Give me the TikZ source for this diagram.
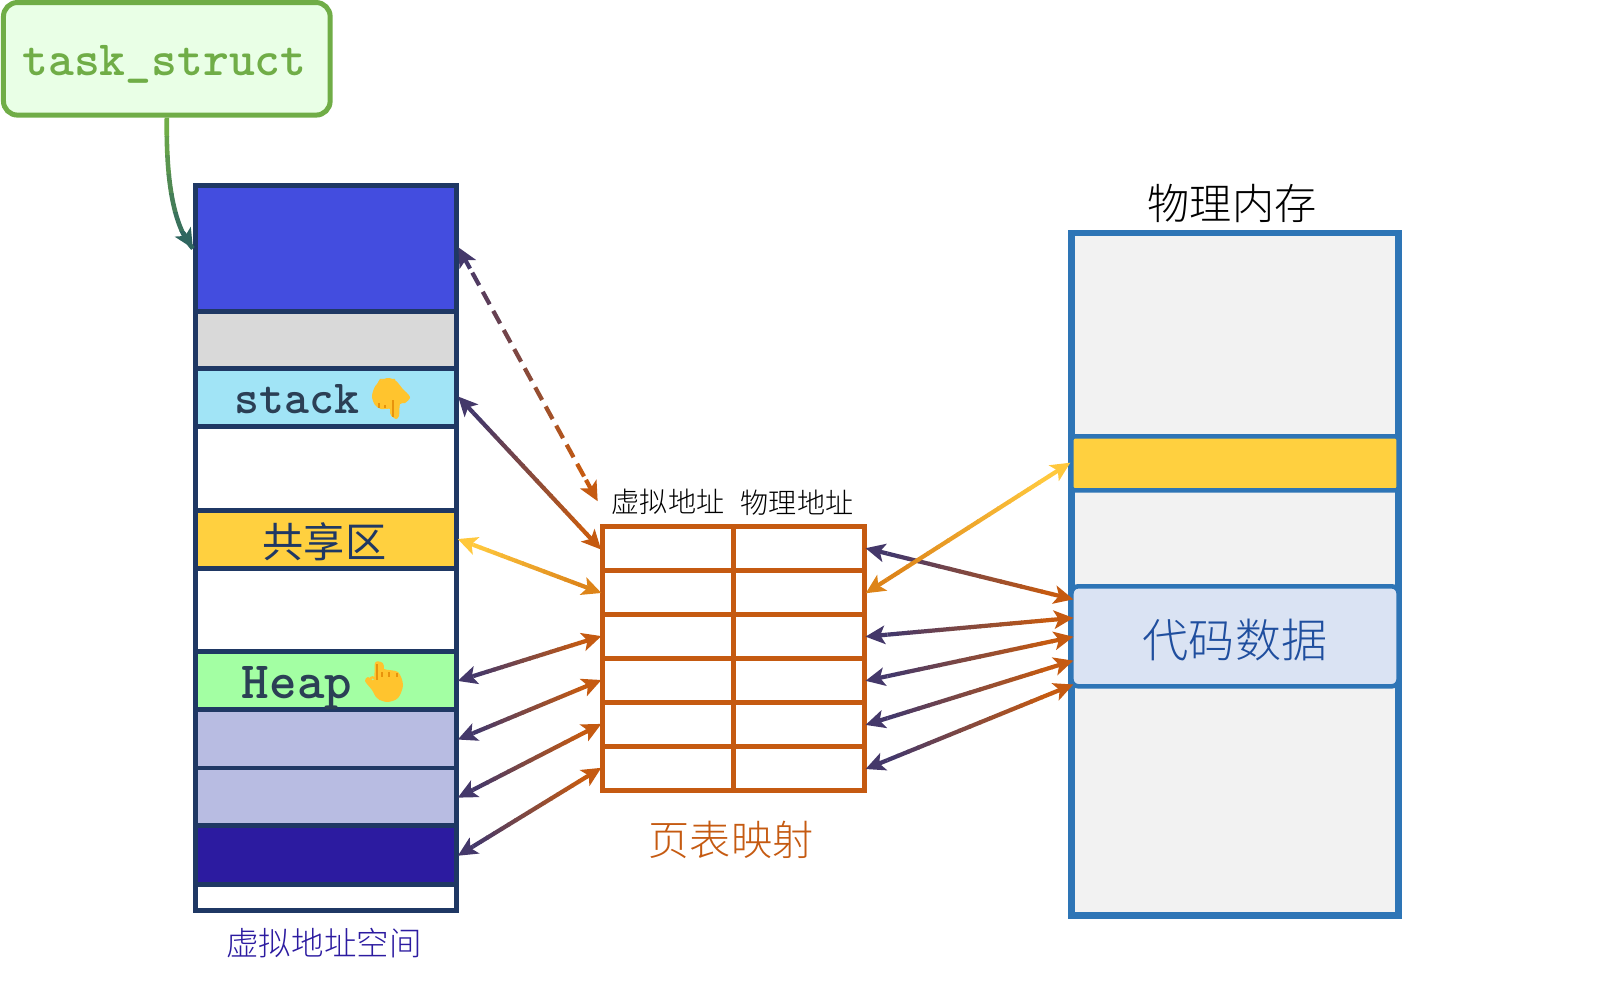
\documentclass[tikz,border=0pt]{standalone}
\usepackage{fontspec}
\usepackage{xcolor}
\usetikzlibrary{arrows.meta,calc}
\newfontfamily\cjkfont[UprightFont=* Light,BoldFont=*]{Noto Sans CJK SC}
\newfontfamily\emojifont[FakeBold=2]{Noto Emoji}
\definecolor{cellline}{HTML}{1F3864}
\definecolor{tablecol}{HTML}{C55A11}
\definecolor{memblue}{HTML}{2E75B6}
\definecolor{linkdark}{HTML}{44386A}
\definecolor{linkyellow}{HTML}{FFC83D}
\definecolor{linkamber}{HTML}{DD8419}
\definecolor{taskgreen}{HTML}{70AD47}
\definecolor{taskfill}{HTML}{E9FFE6}
\definecolor{taskteal}{HTML}{2F6660}
\definecolor{handyellow}{HTML}{FFC42E}
\definecolor{handline}{HTML}{E8930C}
\definecolor{labeldark}{HTML}{2B3F55}
\definecolor{kernelcol}{HTML}{434DDF}
\definecolor{stackcol}{HTML}{A1E4F6}
\definecolor{sharedcol}{HTML}{FFD03F}
\definecolor{heapcol}{HTML}{A3FFA3}
\definecolor{datacol}{HTML}{B8BCE2}
\definecolor{textcol}{HTML}{2C1BA0}
\definecolor{codecol}{HTML}{DAE3F3}
\definecolor{codetext}{HTML}{1F4E9E}
\tikzset{
    memcell/.style={draw=cellline,line width=1.4pt,inner sep=0,minimum width=2.61cm},
    ptcell/.style={draw=tablecol,line width=1.33pt,inner sep=0,minimum width=1.31cm,minimum height=.44cm},
    phycell/.style={draw=memblue,inner sep=0,minimum width=3.27cm},
    hand/.style={text=handyellow,inner sep=0,font=\emojifont\fontsize{10.5}{12}\selectfont},
    handmark/.style={draw=handline,line width=.3pt},
    linkpart/.style={line width=1.2pt},
    linktip/.style={line width=1.2pt,shorten >=-.4pt,-{Stealth[length=5.5pt,width=5.2pt,inset=1.3pt]}}
}
% gradient link: from, to, colour at from, colour at to
\newcommand{\gradlink}[4]{%
    \draw[linktip,#3] ($(#1)!.1!(#2)$) -- (#1);
    \draw[linktip,#4] ($(#1)!.9!(#2)$) -- (#2);
    \foreach \t in {0,...,15} {
        \pgfmathsetmacro\mixval{\t/15*100}
        \draw[linkpart,#4!\mixval!#3] ($(#1)!{.1+\t*.05}!(#2)$) -- ($(#1)!{.155+\t*.05}!(#2)$);
    }
}
\begin{document}
\begin{tikzpicture}[x=.01cm,y=-.01cm]
    \useasboundingbox (0,0) rectangle (1597,1002);

    % task box
    \node[draw=taskgreen,fill=taskfill,line width=1.42pt,rounded corners=.14cm,inner sep=0,
        minimum width=3.265cm,minimum height=1.125cm] (task) at (166.8,58.8) {};
    \node[anchor=base,text=taskgreen,font=\ttfamily\bfseries\fontsize{14}{16}\selectfont] (tasklabel) at (164.5,75) {task\_struct};

    % Virtual address space
    \node[memcell,fill=kernelcol,minimum height=1.26cm] (kernel) at (326,248.5) {};
    \node[memcell,fill=black!15,minimum height=.57cm] (gap) at (326,340) {};
    \node[memcell,fill=stackcol,minimum height=.58cm] (stack) at (326,397.5) {};
    \node[memcell,fill=white,minimum height=.84cm] (free1) at (326,468.5) {};
    \node[memcell,fill=sharedcol,minimum height=.58cm] (shared) at (326,539.5) {};
    \node[memcell,fill=white,minimum height=.83cm] (free2) at (326,610) {};
    \node[memcell,fill=heapcol,minimum height=.58cm] (heap) at (326,680.5) {};
    \node[memcell,fill=datacol,minimum height=.585cm] (data) at (326,739) {};
    \node[memcell,fill=datacol,minimum height=.58cm] (rodata) at (326,797) {};
    \node[memcell,fill=textcol,minimum height=.585cm] (text) at (326,855) {};
    \node[memcell,fill=white,minimum height=.26cm] (zero) at (326,897.5) {};
    \node[text=textcol,font=\cjkfont\fontsize{9.25}{11}\selectfont] (vmtitle) at (324,943) {虚拟地址空间};

    % Labels in the cells
    \node[anchor=base,text=labeldark,font=\ttfamily\bfseries\fontsize{13.5}{15}\selectfont] (stacklabel) at (297,413) {stack};
    \node[anchor=base,text=labeldark,font=\ttfamily\bfseries\fontsize{14.9}{17}\selectfont] (heaplabel) at (297,698) {Heap};
    \node[text=cellline,font=\cjkfont\bfseries\fontsize{11.7}{14}\selectfont] (sharedlabel) at (324.5,542) {共享区};

    % Hands
    \fill[handyellow] plot[smooth cycle] coordinates {(387,378) (396,381) (402,388) (410,397) (405,403) (400,404) (399,416) (396,419) (392,416) (391,409) (381,409) (375,405) (372,396) (376,385)};
    \node[hand] (handdown) at (390,398) {👇};
    \draw[handmark] (379,403) -- (379,408) (385,405) -- (385,408) (393,400) -- (393,417);
    \fill[handyellow] plot[smooth cycle] coordinates {(375,663) (381,662) (384,669) (398,672) (403,685) (398,698) (387,702) (377,698) (372,690) (365,681) (368,677) (374,680)};
    \node[hand] (handup) at (384,681) {👆};
    \draw[handmark] (377,664) -- (377,680) (382,672) -- (382,677) (389,672) -- (389,677) (397,673) -- (397,677);

    % Page table
    \foreach \i in {1,...,6} {
        \node[ptcell] (vl\i) at (668,504.5+44*\i) {};
        \node[ptcell] (pr\i) at (799,504.5+44*\i) {};
    }
    \node[font=\cjkfont\fontsize{8}{10}\selectfont] (vhead) at (668,502) {虚拟地址};
    \node[font=\cjkfont\fontsize{8}{10}\selectfont] (phead) at (797,503) {物理地址};
    \node[text=tablecol,font=\cjkfont\fontsize{11.7}{14}\selectfont] (pttitle) at (731,840) {页表映射};

    % Physical memory
    \node[phycell,fill=black!5,line width=1.85pt,minimum height=6.82cm] (phymem) at (1235,574.4) {};
    \node[phycell,fill=sharedcol,line width=1.3pt,rounded corners=.03cm,minimum height=.54cm] (physhared) at (1235,463.4) {};
    \node[phycell,fill=codecol,line width=1.3pt,rounded corners=.07cm,minimum height=1cm] (phycode) at (1235,636.3) {};
    \node[text=codetext,font=\cjkfont\fontsize{13.1}{16}\selectfont] (codelabel) at (1235,640) {代码数据};
    \node[font=\cjkfont\fontsize{12}{14}\selectfont] (phytitle) at (1232,203) {物理内存};

    % free ends
    \coordinate (vlcorner) at (597,500);
    \foreach \i/\y in {1/599,2/618,3/637,4/661,5/685}
        \coordinate (cd\i) at (1072,\y);

    % task pointer
    \foreach \b in {0,...,6} {
        \pgfmathsetmacro\mixval{\b/6*100}
        \begin{scope}
            \clip (100,117+19*\b) rectangle (300,136.5+19*\b);
            \draw[line width=1.3pt,taskteal!\mixval!taskgreen] (task.south) .. controls (166,175) and (172,225) .. (kernel.west);
        \end{scope}
    }
    \draw[line width=1.3pt,taskteal,-{Stealth[length=5.5pt,width=5.2pt,inset=1.3pt]}] (183.5,233) -- (kernel.west);

    % Dashed link
    \draw[linktip,linkdark] ($(kernel.east)!.08!(vlcorner)$) -- (kernel.east);
    \draw[linktip,tablecol] ($(kernel.east)!.92!(vlcorner)$) -- (vlcorner);
    \foreach \t in {1,...,11} {
        \pgfmathsetmacro\mixval{\t/11*100}
        \draw[linkpart,tablecol!\mixval!linkdark] ($(kernel.east)!{.02+\t*.076}!(vlcorner)$) -- ($(kernel.east)!{.07+\t*.076}!(vlcorner)$);
    }

    % Links to page table
    \gradlink{stack.east}{vl1.west}{linkdark}{tablecol}
    \gradlink{shared.east}{vl2.west}{linkyellow}{linkamber}
    \gradlink{heap.east}{vl3.west}{linkdark}{tablecol}
    \gradlink{data.east}{vl4.west}{linkdark}{tablecol}
    \gradlink{rodata.east}{vl5.west}{linkdark}{tablecol}
    \gradlink{text.east}{vl6.west}{linkdark}{tablecol}

    % Links to memory
    \gradlink{pr1.east}{cd1}{linkdark}{tablecol}
    \gradlink{pr3.east}{cd2}{linkdark}{tablecol}
    \gradlink{pr4.east}{cd3}{linkdark}{tablecol}
    \gradlink{pr5.east}{cd4}{linkdark}{tablecol}
    \gradlink{pr6.east}{cd5}{linkdark}{tablecol}
    \gradlink{pr2.east}{physhared.west}{linkamber}{linkyellow}
\end{tikzpicture}
\end{document}
